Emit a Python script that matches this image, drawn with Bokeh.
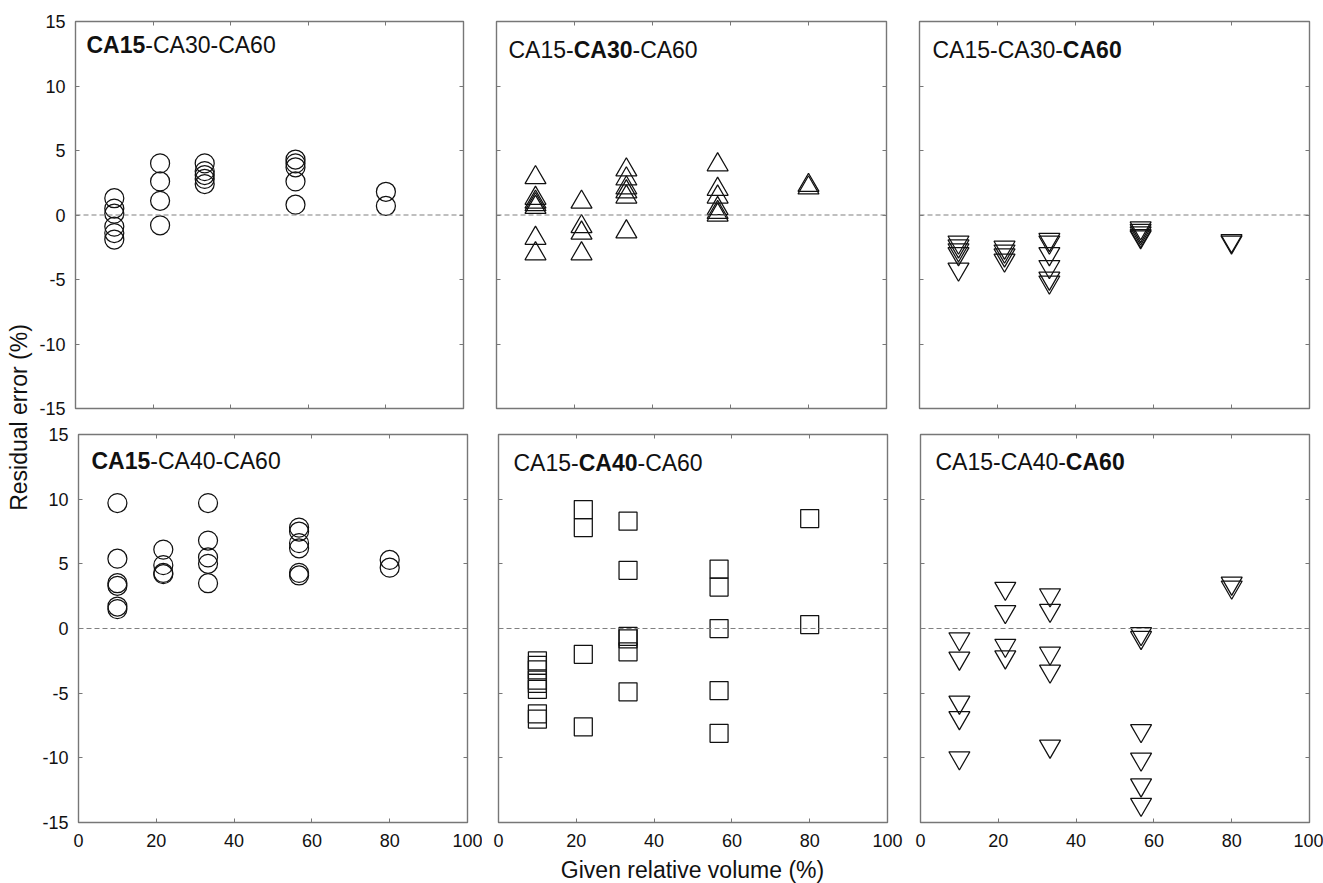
import numpy as np
from bokeh.plotting import figure
from bokeh.models import Range1d, LinearAxis, FixedTicker, Span
from bokeh.layouts import row, column
from bokeh.core.properties import value
from bokeh.embed import file_html
from bokeh.resources import INLINE

# Given relative volumes (%) shared by every panel
volumes = [10, 21.8, 33.3, 56.7, 80]
x_ticks = [0, 20, 40, 60, 80, 100]
y_ticks = [-15, -10, -5, 0, 5, 10, 15]

# Residual errors (%), one list per volume level
# Mixture CA15-CA30-CA60
res_mix30_ca15 = [[1.3, 0.5, 0.1, -0.9, -1.4, -1.9],
                  [4.0, 2.6, 1.1, -0.8],
                  [4.0, 3.4, 3.1, 2.8, 2.4],
                  [4.3, 4.0, 3.7, 2.6, 0.8],
                  [1.8, 0.7]]
res_mix30_ca30 = [[2.9, 1.3, 1.0, 0.8, 0.6, -1.8, -3.0],
                  [1.0, -0.9, -1.4, -3.0],
                  [3.5, 2.8, 2.1, 1.8, 1.4, -1.3],
                  [3.9, 2.0, 1.4, 0.5, 0.2, 0.0],
                  [2.3, 2.1]]
res_mix30_ca60 = [[-2.1, -2.4, -2.7, -3.0, -4.2],
                  [-2.5, -2.8, -3.1, -3.5],
                  [-1.9, -2.1, -3.0, -4.0, -4.9, -5.2],
                  [-1.0, -1.2, -1.4, -1.6, -1.7],
                  [-2.0, -2.1]]
# Mixture CA15-CA40-CA60
res_mix40_ca15 = [[9.7, 5.4, 3.5, 3.3, 1.7, 1.5],
                  [6.1, 4.9, 4.3, 4.2],
                  [9.7, 6.8, 5.5, 5.0, 3.5],
                  [7.8, 7.5, 6.6, 6.2, 4.3, 4.1],
                  [5.3, 4.7]]
res_mix40_ca40 = [[-2.5, -2.85, -3.2, -4.0, -4.25, -4.7, -6.6, -7.0],
                  [9.2, 7.8, -2.0, -7.6],
                  [8.3, 4.5, -0.6, -0.8, -1.8, -4.9],
                  [4.6, 3.2, 0.0, -4.8, -8.1],
                  [8.5, 0.3]]
res_mix40_ca60 = [[-0.8, -2.3, -5.7, -6.9, -10.0],
                  [3.1, 1.3, -1.3, -2.2],
                  [2.6, 1.4, -1.9, -3.3, -9.1],
                  [-0.4, -0.7, -7.9, -10.1, -12.1, -13.6],
                  [3.5, 3.2]]

FONT = "Liberation Sans"
FRAME = "#777777"
INK = "#111111"
TICK_PX = "18px"
TITLE_PX = 23

# Arial-compatible advance widths (em) for the panel captions
ADV_REG = {"C": 0.722, "A": 0.667, "-": 0.333}
ADV_BOLD = {"C": 0.722, "A": 0.722, "-": 0.333}


def text_width(s, bold):
    table = ADV_BOLD if bold else ADV_REG
    return sum(table.get(ch, 0.556) for ch in s) * TITLE_PX


def flatten(groups):
    xs, ys = [], []
    for v, g in zip(volumes, groups):
        xs += [v] * len(g)
        ys += list(g)
    return xs, ys


def style_axis(ax, ticks, show_labels, standoff):
    ax.ticker = FixedTicker(ticks=ticks, minor_ticks=[])
    ax.major_tick_in = 4
    ax.major_tick_out = 0
    ax.minor_tick_line_color = None
    ax.axis_line_color = None
    ax.major_tick_line_color = FRAME
    ax.major_tick_line_width = 1
    ax.major_label_text_font = FONT
    if show_labels:
        # plain hyphen for negative numbers
        ax.major_label_overrides = {t: str(t) for t in ticks}
        ax.major_label_text_color = INK
        ax.major_label_text_font_size = TICK_PX
        ax.major_label_standoff = standoff
    else:
        ax.major_label_text_color = None
        ax.major_label_text_font_size = "0px"
        ax.major_label_standoff = 0


def panel(groups, marker, size, caption, borders, frame, cap_off,
          xlabels, ylabels):
    bl, br, bt, bb = borders
    fw, fh = frame
    p = figure(width=bl + fw + br, height=bt + fh + bb,
               x_range=Range1d(0, 100), y_range=Range1d(-15, 15),
               toolbar_location=None, output_backend="svg",
               min_border_left=bl, min_border_right=br,
               min_border_top=bt, min_border_bottom=bb)
    p.grid.visible = False
    p.outline_line_color = FRAME
    p.outline_line_width = 1.4
    p.background_fill_color = "white"
    p.border_fill_color = "white"

    p.add_layout(LinearAxis(), "above")
    p.add_layout(LinearAxis(), "right")
    for ax in p.below:
        style_axis(ax, x_ticks, xlabels, 11)
    for ax in p.above:
        style_axis(ax, x_ticks, False, 0)
    for ax in p.left:
        style_axis(ax, y_ticks, ylabels, 10)
    for ax in p.right:
        style_axis(ax, y_ticks, False, 0)

    p.add_layout(Span(location=0, dimension="width", line_color="#808080",
                      line_dash="5 3", line_width=1.2))

    xs, ys = flatten(groups)
    p.scatter(xs, ys, marker=marker, size=size, fill_color=None,
              line_color=INK, line_width=1.25)

    # caption with one bold component
    dx, dy = cap_off
    ax0 = dx * 100.0 / fw
    ay0 = 15 - dy * 30.0 / fh
    offset = 0.0
    for part, bold in caption:
        p.text(x=[ax0], y=[ay0], text=[part], x_offset=offset,
               text_font=value(FONT), text_font_size=value(f"{TITLE_PX}px"),
               text_font_style="bold" if bold else "normal",
               text_color=INK, text_align="left", text_baseline="alphabetic")
        offset += text_width(part, bold)
    return p


TOP_H = 21 + 387 + 13
BOT_H = 13 + 388 + 33

tl = panel(res_mix30_ca15, "circle", 19,
           [("CA15", True), ("-CA30-CA60", False)],
           (39, 16, 21, 13), (388, 387), (11, 23), False, True)
tm = panel(res_mix30_ca30, "triangle", 21,
           [("CA15-", False), ("CA30", True), ("-CA60", False)],
           (17, 16, 21, 13), (390, 387), (12, 28), False, False)
tr = panel(res_mix30_ca60, "inverted_triangle", 21,
           [("CA15-CA30-", False), ("CA60", True)],
           (17, 14, 21, 13), (390, 387), (13, 28), False, False)

bl_ = panel(res_mix40_ca15, "circle", 19,
            [("CA15", True), ("-CA40-CA60", False)],
            (42, 15, 13, 33), (389, 388), (13, 26), True, True)
bm = panel(res_mix40_ca40, "square", 18,
           [("CA15-", False), ("CA40", True), ("-CA60", False)],
           (16, 16, 13, 33), (389, 388), (15, 28), True, False)
br_ = panel(res_mix40_ca60, "inverted_triangle", 21,
            [("CA15-CA40-", False), ("CA60", True)],
            (17, 14, 13, 33), (389, 388), (15, 27), True, False)

# shared vertical title
yl = figure(width=36, height=883, x_range=Range1d(0, 1), y_range=Range1d(0, 883),
            toolbar_location=None, output_backend="svg", title=None,
            x_axis_type=None, y_axis_type=None, min_border=0)
yl.outline_line_color = None
yl.grid.visible = False
yl.text(x=[0.5], y=[883 - 417], text=["Residual error (%)"], angle=np.pi / 2,
        text_align="center", text_baseline="middle",
        text_font=value(FONT), text_font_size=value("23px"), text_color=INK)

# shared horizontal title, centred under the middle column
xt_h = 883 - TOP_H - BOT_H
xt = figure(width=1287, height=xt_h, x_range=Range1d(0, 1287), y_range=Range1d(0, xt_h),
            toolbar_location=None, output_backend="svg", title=None,
            x_axis_type=None, y_axis_type=None, min_border=0)
xt.outline_line_color = None
xt.grid.visible = False
xt.text(x=[656], y=[xt_h - 14], text=["Given relative volume (%)"],
        text_align="center", text_baseline="middle",
        text_font=value(FONT), text_font_size=value("23px"), text_color=INK)

layout = row(yl, column(row(tl, tm, tr), row(bl_, bm, br_), xt))

open("out.html", "w").write(file_html(layout, INLINE))
